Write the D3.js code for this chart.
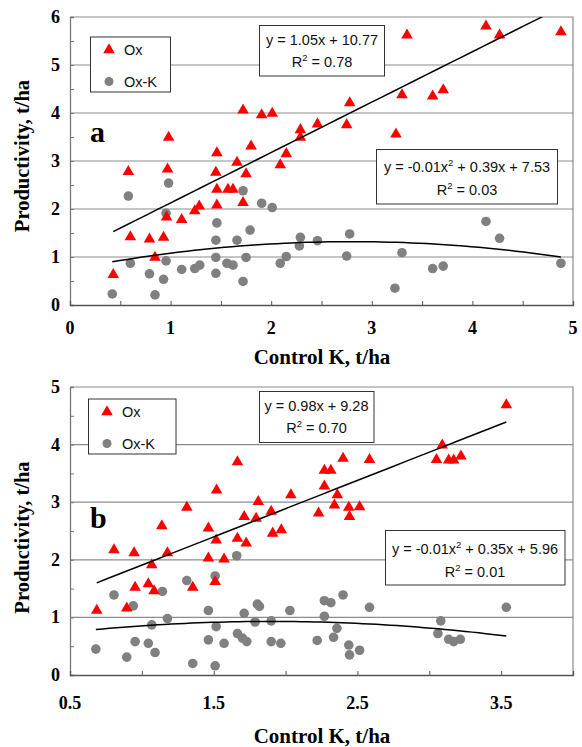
<!DOCTYPE html>
<html>
<head>
<meta charset="utf-8">
<script src="https://cdn.jsdelivr.net/npm/d3@7"></script>
<style>
  html, body { margin: 0; padding: 0; background: #fff; }
  svg { display: block; }
</style>
</head>
<body>
<svg id="chart" width="582" height="747"></svg>
<script>
// ---- Panel a: Control K vs productivity (t/ha) ----
const oxA = [
  [0.43,0.63],[0.58,2.78],[0.60,1.42],[0.79,1.37],[0.845,0.99],[0.93,1.41],[0.96,1.83],
  [0.97,2.83],[0.98,3.49],[1.11,1.78],[1.24,1.96],[1.285,2.06],[1.45,2.76],[1.46,2.08],
  [1.46,3.17],[1.46,2.41],[1.57,2.41],[1.62,2.41],[1.66,2.97],[1.72,4.06],[1.72,2.13],
  [1.75,2.73],[1.80,3.31],[1.905,3.96],[2.01,3.99],[2.09,2.92],[2.15,3.15],[2.29,3.65],
  [2.29,3.49],[2.46,3.77],[2.75,3.75],[2.78,4.21],[3.24,3.56],[3.30,4.375],[3.35,5.62],
  [3.605,4.35],[3.71,4.48],[4.135,5.81],[4.27,5.62],[4.88,5.69]
];
const oxkA = [
  [0.42,0.23],[0.58,2.27],[0.60,0.87],[0.79,0.65],[0.845,0.21],[0.93,0.535],[0.955,0.92],
  [0.955,1.91],[0.98,2.54],[1.11,0.74],[1.24,0.76],[1.29,0.83],[1.45,0.66],[1.45,0.99],
  [1.45,1.35],[1.46,1.71],[1.56,0.87],[1.62,0.83],[1.66,1.35],[1.72,2.38],[1.72,0.49],
  [1.75,0.99],[1.79,1.56],[1.905,2.12],[2.01,2.03],[2.09,0.87],[2.15,1.01],[2.28,1.23],
  [2.29,1.41],[2.46,1.34],[2.75,1.02],[2.78,1.48],[3.23,0.35],[3.30,1.09],[3.605,0.76],
  [3.71,0.81],[4.135,1.74],[4.27,1.39],[4.88,0.87]
];
// trend lines: linear in c/ha (slope, intercept), quadratic in t/ha (a, b, c)
const linA = [1.05, 10.77];
const quadA = [-0.0742, 0.4155, 0.738];
const eqLinA = ["y = 1.05x + 10.77", "0.78"];
const eqQuadA = ["y = -0.01x", " + 0.39x + 7.53", "0.03"];
const xTicksA = [0, 1, 2, 3, 4, 5];
const yTicksA = [0, 1, 2, 3, 4, 5, 6];

// ---- Panel b ----
const oxB = [
  [0.686,1.12],[0.806,2.17],[0.895,1.16],[0.946,2.12],[0.953,1.52],[1.045,1.58],[1.069,1.91],
  [1.085,1.46],[1.139,2.59],[1.178,2.12],[1.313,2.91],[1.354,1.52],[1.463,2.55],[1.463,2.03],
  [1.51,1.62],[1.517,2.34],[1.52,3.21],[1.572,2.01],[1.665,3.70],[1.665,2.37],[1.726,2.29],
  [1.712,2.75],[1.795,2.72],[1.81,3.01],[1.90,2.84],[1.91,2.46],[1.97,2.52],[2.037,3.125],
  [2.23,2.81],[2.27,3.28],[2.27,3.55],[2.315,3.55],[2.36,3.125],[2.34,2.95],[2.40,3.76],
  [2.44,2.91],[2.445,2.75],[2.515,2.92],[2.584,3.74],[3.05,3.74],[3.09,3.99],[3.135,3.73],
  [3.17,3.73],[3.22,3.80],[3.536,4.69]
];
const oxkB = [
  [0.68,0.45],[0.806,1.39],[0.895,0.31],[0.94,1.20],[0.953,0.58],[1.045,0.55],[1.069,0.87],
  [1.092,0.39],[1.143,1.45],[1.178,0.98],[1.313,1.64],[1.354,0.20],[1.463,1.12],[1.463,0.61],
  [1.51,1.72],[1.517,0.84],[1.51,0.16],[1.572,0.55],[1.66,2.07],[1.665,0.72],[1.70,0.64],
  [1.712,1.07],[1.73,0.58],[1.788,0.92],[1.804,1.23],[1.818,1.19],[1.90,0.94],[1.90,0.58],
  [1.967,0.55],[2.03,1.12],[2.22,0.60],[2.27,1.02],[2.27,1.29],[2.315,1.255],[2.357,0.81],
  [2.334,0.655],[2.40,1.39],[2.44,0.52],[2.445,0.35],[2.515,0.43],[2.584,1.175],[3.06,0.72],
  [3.08,0.94],[3.135,0.62],[3.17,0.58],[3.216,0.62],[3.536,1.175]
];
const linB = [0.98, 9.28];
const quadB = [-0.095, 0.361, 0.587];
const eqLinB = ["y = 0.98x + 9.28", "0.70"];
const eqQuadB = ["y = -0.01x", " + 0.35x + 5.96", "0.01"];
const xTicksB = [0.5, 1.5, 2.5, 3.5];
const yTicksB = [0, 1, 2, 3, 4, 5];

const seriesNames = ["Ox", "Ox-K"];

const RED = "#ff0000", GRAY = "#808080";
const SERIF = "'Liberation Serif','Times New Roman',serif";
const SANS = "'Liberation Sans',Arial,sans-serif";

const svg = d3.select("#chart");
svg.append("rect").attr("width", 582).attr("height", 747).attr("fill", "#fff");

const panels = [
  {
    id: "a", ox: oxA, oxk: oxkA, lin: linA, quad: quadA, eqLin: eqLinA, eqQuad: eqQuadA,
    xDom: [0, 5], yDom: [0, 6], xTicks: xTicksA, yTicks: yTicksA,
    left: 70, right: 573, top: 17, bottom: 305,
    legend: { x: 90.5, y: 37, w: 80, h: 55 },
    boxLin: { x: 259.5, y: 25.5, w: 125, h: 50.5, cx: 322, b1: 45, b2: 66.5 },
    boxQuad: { x: 376.5, y: 149.5, w: 181, h: 54.5, cx: 467, b1: 172, b2: 195 },
    tag: { x: 90, y: 142 },
    xLabelY: 334, xTitleY: 364, yTitleY: 156
  },
  {
    id: "b", ox: oxB, oxk: oxkB, lin: linB, quad: quadB, eqLin: eqLinB, eqQuad: eqQuadB,
    xDom: [0.5, 4], yDom: [0, 5], xTicks: xTicksB, yTicks: yTicksB,
    left: 70, right: 573, top: 387, bottom: 675,
    legend: { x: 88.5, y: 399, w: 87.5, h: 55 },
    boxLin: { x: 259.5, y: 391.5, w: 114.5, h: 51, cx: 316.5, b1: 411, b2: 433 },
    boxQuad: { x: 385.5, y: 530.5, w: 179.5, h: 54.5, cx: 475, b1: 553.5, b2: 577 },
    tag: { x: 90, y: 528 },
    xLabelY: 709, xTitleY: 743, yTitleY: 537.5
  }
];

const triangle = d3.symbol().type(d3.symbolTriangle).size(58);

panels.forEach(p => {
  const x = d3.scaleLinear().domain(p.xDom).range([p.left, p.right]);
  const y = d3.scaleLinear().domain(p.yDom).range([p.bottom, p.top]);
  const g = svg.append("g").attr("class", "panel-" + p.id);

  // gridlines at whole units
  g.selectAll("line.grid")
    .data(p.yTicks.filter(v => v > p.yDom[0] && v < p.yDom[1]))
    .join("line").attr("class", "grid")
    .attr("x1", p.left).attr("x2", p.right)
    .attr("y1", d => y(d)).attr("y2", d => y(d))
    .attr("stroke", "#8c8c8c").attr("stroke-width", 1.2);

  // plot frame (top and right)
  g.append("path")
    .attr("d", `M${p.left},${p.top}H${p.right}V${p.bottom}`)
    .attr("fill", "none").attr("stroke", "#8c8c8c").attr("stroke-width", 1.2);

  // y axis with inner half-unit ticks
  const yAxis = d3.axisLeft(y).tickValues(d3.range(p.yDom[0], p.yDom[1] + 0.001, 0.5))
    .tickSize(-4).tickFormat("");
  const ya = g.append("g").attr("transform", `translate(${p.left},0)`).call(yAxis);
  ya.select(".domain").attr("stroke", "#777").attr("stroke-width", 1.3);
  ya.selectAll(".tick line").attr("stroke", "#777");

  // x axis with inner half-unit ticks
  const xAxis = d3.axisBottom(x).tickValues(d3.range(p.xDom[0], p.xDom[1] + 0.001, 0.5))
    .tickSize(-4).tickFormat("");
  const xa = g.append("g").attr("transform", `translate(0,${p.bottom})`).call(xAxis);
  xa.select(".domain").attr("stroke", "#555").attr("stroke-width", 1.3);
  xa.selectAll(".tick line").attr("stroke", "#555");

  // tick labels
  g.selectAll("text.ylab").data(p.yTicks).join("text").attr("class", "ylab")
    .attr("x", 60).attr("y", d => y(d) + 6)
    .attr("text-anchor", "end")
    .attr("font-family", SERIF).attr("font-weight", "bold").attr("font-size", 18)
    .text(d => d3.format("d")(d));
  g.selectAll("text.xlab").data(p.xTicks).join("text").attr("class", "xlab")
    .attr("x", d => x(d)).attr("y", p.xLabelY)
    .attr("text-anchor", "middle")
    .attr("font-family", SERIF).attr("font-weight", "bold").attr("font-size", 18)
    .text(d => Number.isInteger(d) ? d3.format("d")(d) : d3.format(".1f")(d));

  // axis titles
  g.append("text")
    .attr("transform", `translate(29,${p.yTitleY}) rotate(-90)`)
    .attr("text-anchor", "middle")
    .attr("font-family", SERIF).attr("font-weight", "bold").attr("font-size", 20.5)
    .text("Productivity, t/ha");
  g.append("text")
    .attr("x", 322).attr("y", p.xTitleY).attr("text-anchor", "middle")
    .attr("font-family", SERIF).attr("font-weight", "bold").attr("font-size", 21)
    .text("Control K, t/ha");

  // data points
  g.selectAll("circle.oxk").data(p.oxk).join("circle").attr("class", "oxk")
    .attr("cx", d => x(d[0])).attr("cy", d => y(d[1])).attr("r", 4.8)
    .attr("fill", GRAY);
  g.selectAll("path.ox").data(p.ox).join("path").attr("class", "ox")
    .attr("transform", d => `translate(${x(d[0])},${y(d[1])})`)
    .attr("d", triangle).attr("fill", RED);

  // trend lines (clipped to plot area)
  const clipId = "clip-" + p.id;
  svg.append("clipPath").attr("id", clipId).append("rect")
    .attr("x", p.left).attr("y", p.top)
    .attr("width", p.right - p.left).attr("height", p.bottom - p.top);
  const line = d3.line().x(d => x(d[0])).y(d => y(d[1]));

  const oxExt = d3.extent(p.ox, d => d[0]);
  const linPts = d3.range(0, 41).map(i => {
    const xv = oxExt[0] + (oxExt[1] - oxExt[0]) * i / 40;
    return [xv, p.lin[0] * xv + p.lin[1] / 10];
  });
  g.append("path").datum(linPts).attr("clip-path", `url(#${clipId})`)
    .attr("d", line).attr("fill", "none").attr("stroke", "#000").attr("stroke-width", 1.5);

  const oxkExt = d3.extent(p.oxk, d => d[0]);
  const quadPts = d3.range(0, 61).map(i => {
    const xv = oxkExt[0] + (oxkExt[1] - oxkExt[0]) * i / 60;
    return [xv, p.quad[0] * xv * xv + p.quad[1] * xv + p.quad[2]];
  });
  g.append("path").datum(quadPts).attr("clip-path", `url(#${clipId})`)
    .attr("d", line).attr("fill", "none").attr("stroke", "#000").attr("stroke-width", 1.5);

  // panel tag
  g.append("text").attr("x", p.tag.x).attr("y", p.tag.y)
    .attr("font-family", SERIF).attr("font-weight", "bold").attr("font-size", 30)
    .text(p.id);

  // legend
  const L = p.legend;
  g.append("rect").attr("x", L.x).attr("y", L.y).attr("width", L.w).attr("height", L.h)
    .attr("fill", "#fff").attr("stroke", "#333").attr("stroke-width", 1);
  const mx = L.x + 18.5;
  g.append("path").attr("transform", `translate(${mx},${L.y + 13})`)
    .attr("d", triangle).attr("fill", RED);
  g.append("circle").attr("cx", mx).attr("cy", L.y + 44.5).attr("r", 4.5).attr("fill", GRAY);
  g.selectAll("text.leg").data(seriesNames).join("text").attr("class", "leg")
    .attr("x", L.x + 33.5).attr("y", (d, i) => L.y + 18 + i * 32)
    .attr("font-family", SANS).attr("font-size", 14.5).attr("fill", "#111")
    .text(d => d);

  // equation boxes
  const B1 = p.boxLin;
  g.append("rect").attr("x", B1.x).attr("y", B1.y).attr("width", B1.w).attr("height", B1.h)
    .attr("fill", "#fff").attr("stroke", "#333").attr("stroke-width", 1);
  g.append("text").attr("x", B1.cx).attr("y", B1.b1).attr("text-anchor", "middle")
    .attr("font-family", SANS).attr("font-size", 14.5).attr("fill", "#111")
    .text(p.eqLin[0]);
  const r1 = g.append("text").attr("x", B1.cx).attr("y", B1.b2).attr("text-anchor", "middle")
    .attr("font-family", SANS).attr("font-size", 14.5).attr("fill", "#111");
  r1.append("tspan").text("R");
  r1.append("tspan").attr("font-size", 9.5).attr("dy", -6).text("2");
  r1.append("tspan").attr("dy", 6).text(" = " + p.eqLin[1]);

  const B2 = p.boxQuad;
  g.append("rect").attr("x", B2.x).attr("y", B2.y).attr("width", B2.w).attr("height", B2.h)
    .attr("fill", "#fff").attr("stroke", "#333").attr("stroke-width", 1);
  const q1 = g.append("text").attr("x", B2.cx).attr("y", B2.b1).attr("text-anchor", "middle")
    .attr("font-family", SANS).attr("font-size", 14.5).attr("fill", "#111");
  q1.append("tspan").text(p.eqQuad[0]);
  q1.append("tspan").attr("font-size", 9.5).attr("dy", -6).text("2");
  q1.append("tspan").attr("dy", 6).text(p.eqQuad[1]);
  const r2 = g.append("text").attr("x", B2.cx).attr("y", B2.b2).attr("text-anchor", "middle")
    .attr("font-family", SANS).attr("font-size", 14.5).attr("fill", "#111");
  r2.append("tspan").text("R");
  r2.append("tspan").attr("font-size", 9.5).attr("dy", -6).text("2");
  r2.append("tspan").attr("dy", 6).text(" = " + p.eqQuad[2]);
});
</script>
</body>
</html>
